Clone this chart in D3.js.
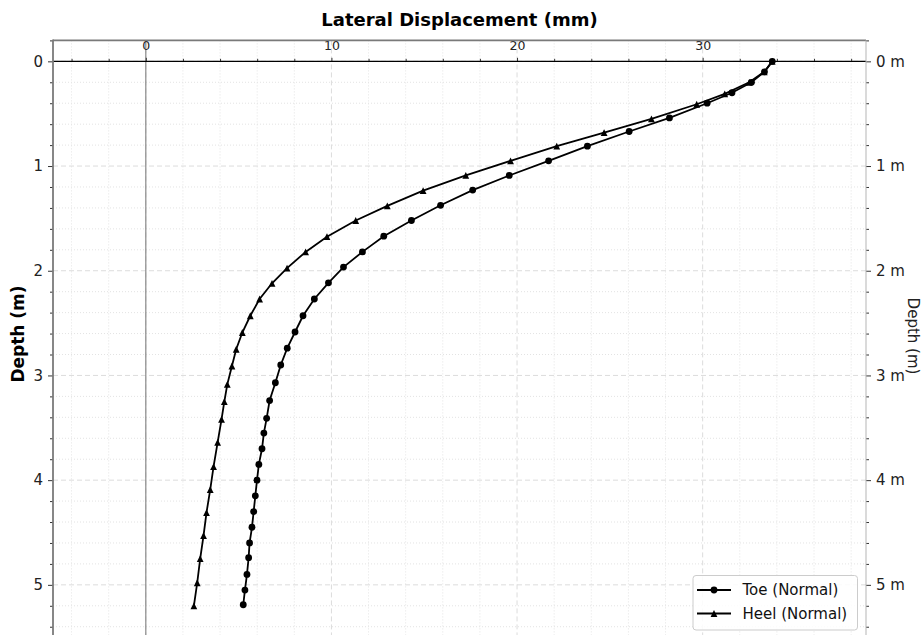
<!DOCTYPE html>
<html>
<head>
<meta charset="utf-8">
<script src="https://cdn.jsdelivr.net/npm/d3@7"></script>
<style>
  body { margin: 0; background: #fff; }
  svg text { font-family: "DejaVu Sans", sans-serif; }
</style>
</head>
<body>
<div id="chart"></div>
<script>
/***** Data *****/
var toeDepth = [0, 0.10, 0.20, 0.30, 0.40, 0.54, 0.67, 0.81, 0.95, 1.09, 1.23, 1.375, 1.52, 1.67, 1.82, 1.965,
  2.115, 2.27, 2.43, 2.585, 2.74, 2.90, 3.07, 3.24, 3.41, 3.55, 3.70, 3.85, 4.00, 4.15, 4.30, 4.45, 4.60,
  4.74, 4.90, 5.05, 5.19];
var toeDisp = [33.75, 33.33, 32.63, 31.58, 30.24, 28.21, 26.04, 23.79, 21.70, 19.58, 17.61, 15.88, 14.31,
  12.82, 11.67, 10.65, 9.84, 9.08, 8.47, 8.04, 7.62, 7.27, 6.98, 6.67, 6.51, 6.36, 6.26, 6.09, 5.99, 5.90,
  5.81, 5.72, 5.59, 5.54, 5.45, 5.34, 5.25];

var heelDepth = [0, 0.10, 0.20, 0.31, 0.41, 0.55, 0.68, 0.81, 0.95, 1.09, 1.235, 1.38, 1.52, 1.675, 1.82,
  1.975, 2.12, 2.27, 2.43, 2.59, 2.75, 2.91, 3.085, 3.25, 3.42, 3.64, 3.87, 4.09, 4.31, 4.53, 4.75, 4.98, 5.20];
var heelDisp = [33.75, 33.32, 32.51, 31.19, 29.68, 27.24, 24.69, 22.14, 19.65, 17.24, 14.94, 13.01, 11.31,
  9.76, 8.61, 7.61, 6.80, 6.13, 5.63, 5.20, 4.87, 4.64, 4.39, 4.23, 4.08, 3.87, 3.65, 3.47, 3.27, 3.11,
  2.93, 2.77, 2.59];

var xMajorTicks = [0, 10, 20, 30];
var yMajorTicks = [0, 1, 2, 3, 4, 5];
var seriesNames = ["Toe (Normal)", "Heel (Normal)"];

/***** Layout *****/
var width = 923, height = 635;
var plotLeft = 53, plotRight = 866, plotTop = 40.4, plotBottom = 637.2;

var svg = d3.select("#chart").append("svg")
  .attr("width", width)
  .attr("height", height);

var x = d3.scaleLinear().domain([-5, 38.8]).range([plotLeft, plotRight]);
var y = d3.scaleLinear().domain([-0.2, 5.5]).range([plotTop, plotBottom]);

var xMinor = d3.range(-4, 39, 2).filter(function(d) { return d % 10 !== 0; });
var yMinor = d3.range(-1, 28).map(function(i) { return +(i * 0.2).toFixed(1); })
  .filter(function(d) { return Math.abs(d - Math.round(d)) > 1e-6; });

svg.append("defs").append("clipPath").attr("id", "clip")
  .append("rect").attr("x", plotLeft).attr("y", plotTop)
  .attr("width", plotRight - plotLeft).attr("height", plotBottom - plotTop);

var plot = svg.append("g").attr("clip-path", "url(#clip)");

// grid: minor dotted, major dashed
plot.selectAll(".vminor").data(xMinor).enter().append("line")
  .attr("x1", function(d) { return x(d); }).attr("x2", function(d) { return x(d); })
  .attr("y1", plotTop).attr("y2", plotBottom)
  .attr("stroke", "#e3e3e3").attr("stroke-width", 1).attr("stroke-dasharray", "1,2");
plot.selectAll(".hminor").data(yMinor).enter().append("line")
  .attr("y1", function(d) { return y(d); }).attr("y2", function(d) { return y(d); })
  .attr("x1", plotLeft).attr("x2", plotRight)
  .attr("stroke", "#e3e3e3").attr("stroke-width", 1).attr("stroke-dasharray", "1,2");
plot.selectAll(".vmajor").data(xMajorTicks).enter().append("line")
  .attr("x1", function(d) { return x(d); }).attr("x2", function(d) { return x(d); })
  .attr("y1", plotTop).attr("y2", plotBottom)
  .attr("stroke", "#dcdcdc").attr("stroke-width", 1).attr("stroke-dasharray", "5,3");
plot.selectAll(".hmajor").data(yMajorTicks).enter().append("line")
  .attr("y1", function(d) { return y(d); }).attr("y2", function(d) { return y(d); })
  .attr("x1", plotLeft).attr("x2", plotRight)
  .attr("stroke", "#dcdcdc").attr("stroke-width", 1).attr("stroke-dasharray", "5,3");

// zero displacement line
plot.append("line")
  .attr("x1", x(0)).attr("x2", x(0)).attr("y1", plotTop).attr("y2", plotBottom)
  .attr("stroke", "#8a8a8a").attr("stroke-width", 1.2);

// series
var line = d3.line().x(function(d) { return x(d[0]); }).y(function(d) { return y(d[1]); });
var toe = toeDisp.map(function(v, i) { return [v, toeDepth[i]]; });
var heel = heelDisp.map(function(v, i) { return [v, heelDepth[i]]; });

function triPath(s) { return "M0," + (-s) + "L" + (-s) + "," + s + "L" + s + "," + s + "Z"; }

plot.append("path").datum(heel).attr("d", line)
  .attr("fill", "none").attr("stroke", "#000").attr("stroke-width", 1.8);
plot.selectAll(".tri").data(heel).enter().append("path")
  .attr("d", triPath(3.4))
  .attr("transform", function(d) { return "translate(" + x(d[0]) + "," + y(d[1]) + ")"; })
  .attr("fill", "#000");

plot.append("path").datum(toe).attr("d", line)
  .attr("fill", "none").attr("stroke", "#000").attr("stroke-width", 1.8);
plot.selectAll(".dot").data(toe).enter().append("circle")
  .attr("cx", function(d) { return x(d[0]); }).attr("cy", function(d) { return y(d[1]); })
  .attr("r", 3.4).attr("fill", "#000");

// x axis positioned at depth 0
var xAxisG = svg.append("g").attr("transform", "translate(0," + y(0) + ")");
xAxisG.call(d3.axisTop(x).tickValues(xMajorTicks).tickSize(3.5).tickPadding(7.5).tickFormat(d3.format("d")));
xAxisG.append("g").call(d3.axisTop(x).tickValues(xMinor).tickSize(2.5).tickFormat(""));
xAxisG.selectAll(".domain").remove();
xAxisG.append("line").attr("x1", plotLeft).attr("x2", plotRight).attr("y1", 0).attr("y2", 0)
  .attr("stroke", "#000").attr("stroke-width", 1.2);
xAxisG.selectAll(".tick line").attr("stroke", "#333");
xAxisG.selectAll(".tick text").attr("font-size", "12.5px").attr("fill", "#222")
  .attr("font-family", "DejaVu Sans, sans-serif");

// left axis
var yAxisL = svg.append("g").attr("transform", "translate(" + plotLeft + ",0)");
yAxisL.call(d3.axisLeft(y).tickValues(yMajorTicks).tickSize(5).tickPadding(5).tickFormat(d3.format("d")));
yAxisL.append("g").call(d3.axisLeft(y).tickValues(yMinor).tickSize(3).tickFormat(""));
yAxisL.selectAll(".domain").remove();
yAxisL.selectAll(".tick line").attr("stroke", "#333");
yAxisL.selectAll(".tick text").attr("font-size", "15px").attr("fill", "#222")
  .attr("font-family", "DejaVu Sans, sans-serif");

// right axis
var yAxisR = svg.append("g").attr("transform", "translate(" + plotRight + ",0)");
yAxisR.call(d3.axisRight(y).tickValues(yMajorTicks).tickSize(5).tickPadding(5)
  .tickFormat(function(d) { return d + " m"; }));
yAxisR.append("g").call(d3.axisRight(y).tickValues(yMinor).tickSize(3).tickFormat(""));
yAxisR.selectAll(".domain").remove();
yAxisR.selectAll(".tick line").attr("stroke", "#333");
yAxisR.selectAll(".tick text").attr("font-size", "15px").attr("fill", "#222")
  .attr("font-family", "DejaVu Sans, sans-serif");

// spines
svg.append("line").attr("x1", plotLeft).attr("x2", plotRight).attr("y1", plotTop).attr("y2", plotTop)
  .attr("stroke", "#7a7a7a").attr("stroke-width", 1.8);
svg.append("line").attr("x1", plotLeft).attr("x2", plotLeft).attr("y1", plotTop - 0.9).attr("y2", plotBottom)
  .attr("stroke", "#7a7a7a").attr("stroke-width", 1.8);
svg.append("line").attr("x1", plotRight).attr("x2", plotRight).attr("y1", plotTop).attr("y2", plotBottom)
  .attr("stroke", "#b5b5b5").attr("stroke-width", 1);

// titles
svg.append("text")
  .attr("x", (plotLeft + plotRight) / 2).attr("y", 26)
  .attr("text-anchor", "middle")
  .attr("font-size", "18px").attr("font-weight", "bold")
  .text("Lateral Displacement (mm)");

svg.append("text")
  .attr("transform", "translate(24,334) rotate(-90)")
  .attr("text-anchor", "middle")
  .attr("font-size", "17px").attr("font-weight", "bold")
  .text("Depth (m)");

svg.append("text")
  .attr("transform", "translate(908,336) rotate(90)")
  .attr("text-anchor", "middle")
  .attr("font-size", "15px").attr("fill", "#222")
  .text("Depth (m)");

// legend
var legend = svg.append("g").attr("transform", "translate(693,575.5)");
legend.append("rect")
  .attr("width", 164.5).attr("height", 54.5)
  .attr("rx", 3).attr("ry", 3)
  .attr("fill", "#fff").attr("fill-opacity", 0.85)
  .attr("stroke", "#cccccc").attr("stroke-width", 1);

seriesNames.forEach(function(name, i) {
  var g = legend.append("g").attr("transform", "translate(0," + (14.5 + i * 23.5) + ")");
  g.append("line").attr("x1", 4).attr("x2", 38).attr("y1", 0).attr("y2", 0)
    .attr("stroke", "#000").attr("stroke-width", 1.8);
  if (i === 0) {
    g.append("circle").attr("cx", 21).attr("cy", 0).attr("r", 3.4).attr("fill", "#000");
  } else {
    g.append("path").attr("d", triPath(3.4)).attr("transform", "translate(21,0)").attr("fill", "#000");
  }
  g.append("text").attr("x", 49.5).attr("y", 0).attr("dy", "0.35em")
    .attr("font-size", "15px").attr("fill", "#111")
    .text(name);
});
</script>
</body>
</html>
